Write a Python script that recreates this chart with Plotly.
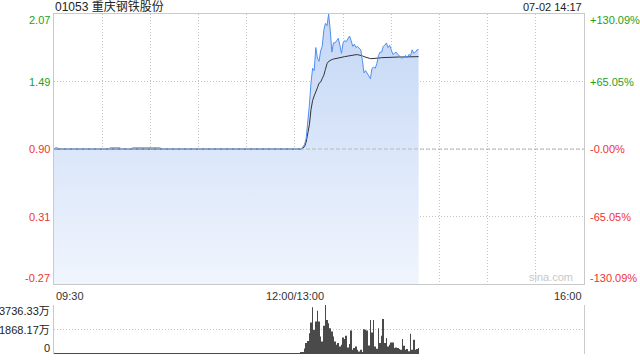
import plotly.graph_objects as go

# ---------------- data ----------------
stock_title = "01053 重庆钢铁股份"
stamp_text = "07-02 14:17"
watermark = "sina.com"
pre_close = 0.90
max_pct = 130.09
session_minutes = 330  # 09:30-12:00 + 13:00-16:00

price_labels = ["2.07", "1.49", "0.90", "0.31", "-0.27"]
pct_labels = ["+130.09%", "+65.05%", "-0.00%", "-65.05%", "-130.09%"]
x_labels = ["09:30", "12:00/13:00", "16:00"]
x_label_pos = [0, 150, 330]
vol_labels = ["3736.33万", "1868.17万", "0"]
vol_max = 3736.33  # 万

# morning session prices (09:30-11:59)
price_am = [
    0.90, 0.91, 0.91, 0.90, 0.90, 0.90, 0.90, 0.90, 0.90, 0.90,
    0.90, 0.90, 0.90, 0.90, 0.90, 0.90, 0.90, 0.90, 0.90, 0.90,
    0.90, 0.90, 0.90, 0.90, 0.90, 0.90, 0.90, 0.90, 0.90, 0.90,
    0.90, 0.90, 0.90, 0.90, 0.90, 0.91, 0.91, 0.91, 0.91, 0.91,
    0.91, 0.91, 0.90, 0.90, 0.90, 0.90, 0.90, 0.90, 0.90, 0.91,
    0.91, 0.91, 0.91, 0.91, 0.91, 0.91, 0.91, 0.91, 0.91, 0.91,
    0.91, 0.91, 0.91, 0.91, 0.91, 0.91, 0.91, 0.90, 0.90, 0.90,
    0.90, 0.90, 0.90, 0.90, 0.90, 0.90, 0.90, 0.90, 0.90, 0.90,
    0.90, 0.90, 0.90, 0.90, 0.90, 0.90, 0.90, 0.90, 0.90, 0.90,
    0.90, 0.90, 0.90, 0.90, 0.90, 0.90, 0.90, 0.90, 0.90, 0.90,
    0.90, 0.90, 0.90, 0.90, 0.90, 0.90, 0.90, 0.90, 0.90, 0.90,
    0.90, 0.90, 0.90, 0.90, 0.90, 0.90, 0.90, 0.90, 0.90, 0.90,
    0.90, 0.90, 0.90, 0.90, 0.90, 0.90, 0.90, 0.90, 0.90, 0.90,
    0.90, 0.90, 0.90, 0.90, 0.90, 0.90, 0.90, 0.90, 0.90, 0.90,
    0.90, 0.90, 0.90, 0.90, 0.90, 0.90, 0.90, 0.90, 0.90, 0.90,
]
# afternoon session prices (13:00-14:17)
price_pm = [
    0.90, 0.90, 0.90, 0.90, 0.90, 0.92, 0.94, 0.99, 1.11, 1.28,
    1.47, 1.60, 1.58, 1.78, 1.69, 1.66, 1.75, 1.79, 1.93, 1.99,
    1.97, 2.07, 1.93, 1.74, 1.82, 1.82, 1.84, 1.86, 1.80, 1.73,
    1.82, 1.84, 1.83, 1.85, 1.88, 1.84, 1.79, 1.81, 1.78, 1.79,
    1.77, 1.76, 1.67, 1.56, 1.58, 1.56, 1.53, 1.51, 1.60, 1.61,
    1.60, 1.64, 1.71, 1.74, 1.74, 1.79, 1.80, 1.82, 1.78, 1.80,
    1.76, 1.72, 1.73, 1.74, 1.72, 1.71, 1.69, 1.69, 1.70, 1.71,
    1.69, 1.72, 1.71, 1.76, 1.73, 1.74, 1.76, 1.76,
]
# average price line
avg_am = [0.90] * 150
avg_pm = [
    0.90, 0.90, 0.90, 0.90, 0.90, 0.91, 0.92, 0.96, 1.03, 1.11,
    1.24, 1.32, 1.36, 1.39, 1.43, 1.47, 1.48, 1.51, 1.54, 1.59,
    1.64, 1.66, 1.67, 1.675, 1.68, 1.684, 1.686, 1.689, 1.692, 1.695,
    1.698, 1.701, 1.704, 1.707, 1.71, 1.71, 1.713, 1.715, 1.718, 1.718,
    1.716, 1.715, 1.708, 1.701, 1.696, 1.692, 1.688, 1.684, 1.684, 1.684,
    1.685, 1.687, 1.689, 1.690, 1.692, 1.693, 1.695, 1.695, 1.696, 1.698,
    1.698, 1.698, 1.698, 1.698, 1.698, 1.698, 1.698, 1.698, 1.699, 1.699,
    1.699, 1.699, 1.700, 1.700, 1.700, 1.700, 1.701, 1.701,
]
# volume in 万
vol_am = [
    20, 35, 10, 25, 15, 30, 10, 20, 15, 25,
    10, 20, 30, 15, 10, 25, 20, 15, 10, 30,
    20, 15, 25, 10, 20, 15, 30, 10, 20, 25,
    15, 10, 20, 30, 25, 15, 20, 10, 25, 15,
    20, 30, 10, 15, 25, 20, 10, 30, 15, 20,
    25, 10, 20, 15, 30, 10, 25, 20, 15, 10,
    20, 30, 15, 25, 10, 20, 15, 30, 10, 20,
    25, 15, 10, 20, 30, 25, 15, 20, 10, 25,
    15, 20, 30, 10, 15, 25, 20, 10, 30, 15,
    20, 25, 10, 20, 15, 30, 10, 25, 20, 15,
    10, 20, 30, 15, 25, 10, 20, 15, 30, 10,
    20, 25, 15, 10, 20, 30, 25, 15, 20, 10,
    25, 15, 20, 30, 10, 15, 25, 20, 10, 30,
    15, 20, 25, 10, 20, 15, 30, 10, 25, 20,
    15, 10, 20, 30, 15, 25, 10, 20, 15, 30,
]
vol_pm = [
    30, 20, 60, 20, 80, 150, 420, 833, 1000, 1590,
    2398, 3560, 1843, 2474, 3307, 2474, 1338, 959, 2145, 3736.33,
    2600, 2348, 1970, 1716, 1338, 959, 707, 833, 580, 707,
    1262, 1136, 1388, 505, 757, 1792, 328, 454, 580, 328,
    200, 328, 126, 1893, 1843, 1792, 656, 2600, 1640, 2600,
    580, 404, 1970, 833, 1388, 2675, 833, 1212, 580, 707,
    884, 884, 454, 505, 454, 379, 328, 1136, 631, 328,
    379, 202, 1540, 328, 1085, 328, 379, 454,
]

price = price_am + price_pm
avg = avg_am + avg_pm
vol = vol_am + vol_pm
minutes = list(range(len(price)))

# ---------------- styling ----------------
FONT = "'Liberation Sans', Arial, 'Noto Sans CJK SC', sans-serif"
GREEN = "#1ea01e"
RED = "#f03232"
GRID = "#c4c4c4"
DOT = "1px,2px"
BORDER = "#cacaca"

lo = pre_close * (1 - max_pct / 100)
hi = pre_close * (1 + max_pct / 100)
tick_vals = [pre_close * (1 + k * max_pct / 200) for k in (2, 1, 0, -1, -2)]

fig = go.Figure()

fig.add_trace(go.Scatter(x=minutes, y=[lo] * len(minutes), mode="lines",
                         line=dict(width=0), hoverinfo="skip", showlegend=False))
fig.add_trace(go.Scatter(
    x=minutes, y=price, mode="lines", line=dict(width=0),
    fill="tonexty",
    fillgradient=dict(type="vertical",
                      colorscale=[[0, "rgb(240,245,253)"], [1, "rgb(196,215,246)"]],
                      start=lo, stop=max(price)),
    hoverinfo="skip", showlegend=False))
fig.add_trace(go.Scatter(x=minutes, y=avg, mode="lines",
                         line=dict(color="#333333", width=1), showlegend=False))
fig.add_trace(go.Scatter(x=minutes, y=price, mode="lines",
                         line=dict(color="#4f8ff2", width=1), showlegend=False))
fig.add_trace(go.Bar(x=minutes, y=vol, xaxis="x2", yaxis="y2",
                     marker=dict(color="#4a4a4a", line=dict(width=0)),
                     width=0.45, showlegend=False))

main_bottom = (354 - 284) / 340
vol_top = (354 - 305) / 340

fig.update_layout(
    width=640, height=360,
    margin=dict(l=54, r=56, t=14, b=6),
    paper_bgcolor="white", plot_bgcolor="white",
    font=dict(family=FONT, size=11, color="#333"),
    xaxis=dict(domain=[0, 1], range=[0, session_minutes], anchor="y",
               tickvals=list(range(0, session_minutes + 1, 30)),
               showticklabels=False, ticks="",
               showgrid=True, griddash=DOT, gridcolor=GRID, gridwidth=1,
               showline=True, linecolor=BORDER, linewidth=1, mirror=True,
               zeroline=False),
    yaxis=dict(domain=[main_bottom, 1], range=[lo, hi], anchor="x",
               tickvals=tick_vals, showticklabels=False, ticks="",
               showgrid=True, griddash=DOT, gridcolor=GRID, gridwidth=1,
               showline=True, linecolor=BORDER, linewidth=1, mirror=True,
               zeroline=False),
    xaxis2=dict(domain=[0, 1], range=[0, session_minutes], anchor="y2",
                showticklabels=False, ticks="", showgrid=False,
                showline=False, zeroline=False),
    yaxis2=dict(domain=[0, vol_top], range=[0, vol_max], anchor="x2",
                tickvals=[0, vol_max / 2, vol_max], showticklabels=False, ticks="",
                showgrid=True, griddash=DOT, gridcolor=GRID, gridwidth=1,
                showline=True, linecolor=BORDER, linewidth=1, mirror=True,
                zeroline=False),
)

# pre-close reference line
fig.add_shape(type="line", xref="x domain", yref="y", x0=0, x1=1,
              y0=pre_close, y1=pre_close,
              line=dict(color="#b8b8b8", width=1, dash="4px,2px"))

ann = []
n = len(tick_vals)
for i, (v, lab, plab) in enumerate(zip(tick_vals, price_labels, pct_labels)):
    col = GREEN if v > pre_close + 1e-9 else RED
    ys = -6 if i == 0 else (6 if i == n - 1 else 0)
    ann.append(dict(xref="paper", yref="y", x=0, y=v, text=lab, showarrow=False,
                    xanchor="right", yanchor="middle", xshift=-2, yshift=ys,
                    font=dict(color=col, size=11)))
    ann.append(dict(xref="paper", yref="y", x=1, y=v, text=plab, showarrow=False,
                    xanchor="left", yanchor="middle", xshift=4, yshift=ys,
                    font=dict(color=col, size=11)))

anchors = ["left", "center", "right"]
for lab, pos, xa in zip(x_labels, x_label_pos, anchors):
    ann.append(dict(xref="x", yref="y domain", x=pos, y=0, text=lab, showarrow=False,
                    xanchor=xa, yanchor="middle", yshift=-12,
                    font=dict(color="#333", size=11)))

vol_pos = [vol_max, vol_max / 2, 0]
vol_shift = [-6, 0, 6]
for lab, v, s in zip(vol_labels, vol_pos, vol_shift):
    ann.append(dict(xref="paper", yref="y2", x=0, y=v, text=lab, showarrow=False,
                    xanchor="right", yanchor="middle", xshift=-2, yshift=s,
                    font=dict(color="#222", size=11)))

ann.append(dict(xref="paper", yref="paper", x=0, y=1, text=stock_title, showarrow=False,
                xanchor="left", yanchor="middle", yshift=7, xshift=-1,
                font=dict(color="#222", size=12)))
ann.append(dict(xref="paper", yref="paper", x=1, y=1, text=stamp_text, showarrow=False,
                xanchor="right", yanchor="middle", yshift=7,
                font=dict(color="#222", size=11)))
ann.append(dict(xref="paper", yref="y domain", x=1, y=0, text=watermark, showarrow=False,
                xanchor="right", yanchor="middle", xshift=-9, yshift=7,
                font=dict(color="#c8c8c8", size=11)))

fig.update_layout(annotations=ann)

fig.write_html("out.html")
